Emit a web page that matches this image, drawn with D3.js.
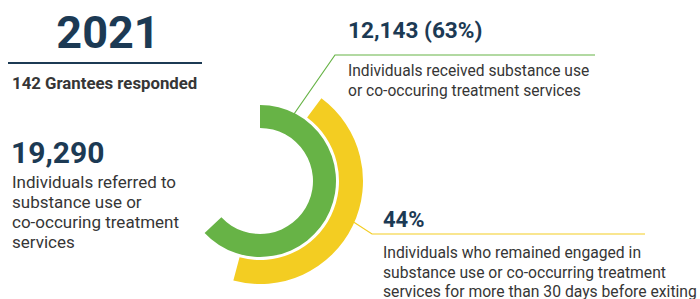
<!DOCTYPE html>
<html>
<head>
<meta charset="utf-8">
<script src="https://cdnjs.cloudflare.com/ajax/libs/d3/7.8.5/d3.min.js"></script>
<style>
  body { margin: 0; background: #fff; }
  svg { display: block; font-family: Roboto, "Open Sans", sans-serif; }
</style>
</head>
<body>
<div id="chart"></div>
<script>
// data
var year = "2021";
var granteesLabel = "142 Grantees responded";
var referredCount = 19290;
var receivedCount = 12143;
var receivedPct = 63;
var engagedPct = 44;
var referredText = ["Individuals referred to", "substance use or", "co-occuring treatment", "services"];
var receivedText = ["Individuals received substance use", "or co-occuring treatment services"];
var engagedText = ["Individuals who remained engaged in", "substance use or co-occurring treatment", "services for more than 30 days before exiting"];

var navy = "#1c3a54", grey = "#363636", green = "#67b346", yellow = "#f3cd22";
var fmt = d3.format(",");

var svg = d3.select("#chart").append("svg")
  .attr("width", 700)
  .attr("height", 299);

// header
svg.append("text")
  .attr("x", 108).attr("y", 48)
  .attr("text-anchor", "middle")
  .attr("font-size", 45).attr("font-weight", 700)
  .attr("fill", navy)
  .text(year);

svg.append("line")
  .attr("x1", 8).attr("x2", 202)
  .attr("y1", 63).attr("y2", 63)
  .attr("stroke", navy).attr("stroke-width", 2);

svg.append("text")
  .attr("x", 12).attr("y", 89)
  .attr("font-size", 16.8).attr("font-weight", 700)
  .attr("fill", grey)
  .text(granteesLabel);

// referred block
svg.append("text")
  .attr("x", 11).attr("y", 163)
  .attr("font-size", 30).attr("font-weight", 700)
  .attr("fill", navy)
  .text(fmt(referredCount));

function lines(x, y0, lh, arr, size) {
  svg.append("g").selectAll("text")
    .data(arr)
    .enter().append("text")
    .attr("x", x)
    .attr("y", function(d, i) { return y0 + i * lh; })
    .attr("font-size", size)
    .attr("fill", grey)
    .text(function(d) { return d; });
}
lines(12, 188, 20, referredText, 17);

// arcs
var cx = 260, cy = 181;
var angle = d3.scaleLinear().domain([0, 100]).range([0, 2 * Math.PI]);
var yellowStart = 36.6 * Math.PI / 180;

var g = svg.append("g").attr("transform", "translate(" + cx + "," + cy + ")");

g.append("path")
  .attr("d", d3.arc().innerRadius(53).outerRadius(76)
    .startAngle(0).endAngle(angle(receivedPct))())
  .attr("fill", green);

g.append("path")
  .attr("d", d3.arc().innerRadius(79).outerRadius(103)
    .startAngle(yellowStart).endAngle(yellowStart + angle(engagedPct))())
  .attr("fill", yellow);

// leader lines
svg.append("polyline")
  .attr("points", "294,114 335,55 595,55")
  .attr("fill", "none").attr("stroke", green).attr("stroke-width", 1.2);

svg.append("polyline")
  .attr("points", "352,221 372,234 645,234")
  .attr("fill", "none").attr("stroke", yellow).attr("stroke-width", 1.2);

// received block
svg.append("text")
  .attr("x", 348).attr("y", 38)
  .attr("font-size", 22.6).attr("font-weight", 700)
  .attr("fill", navy)
  .text(fmt(receivedCount) + " (" + receivedPct + "%)");
lines(348, 76, 19.5, receivedText, 15.6);

// engaged block
svg.append("text")
  .attr("x", 383).attr("y", 227)
  .attr("font-size", 22).attr("font-weight", 700)
  .attr("fill", navy)
  .text(engagedPct + "%");
lines(383, 258, 19.5, engagedText, 15.7);
</script>
</body>
</html>
